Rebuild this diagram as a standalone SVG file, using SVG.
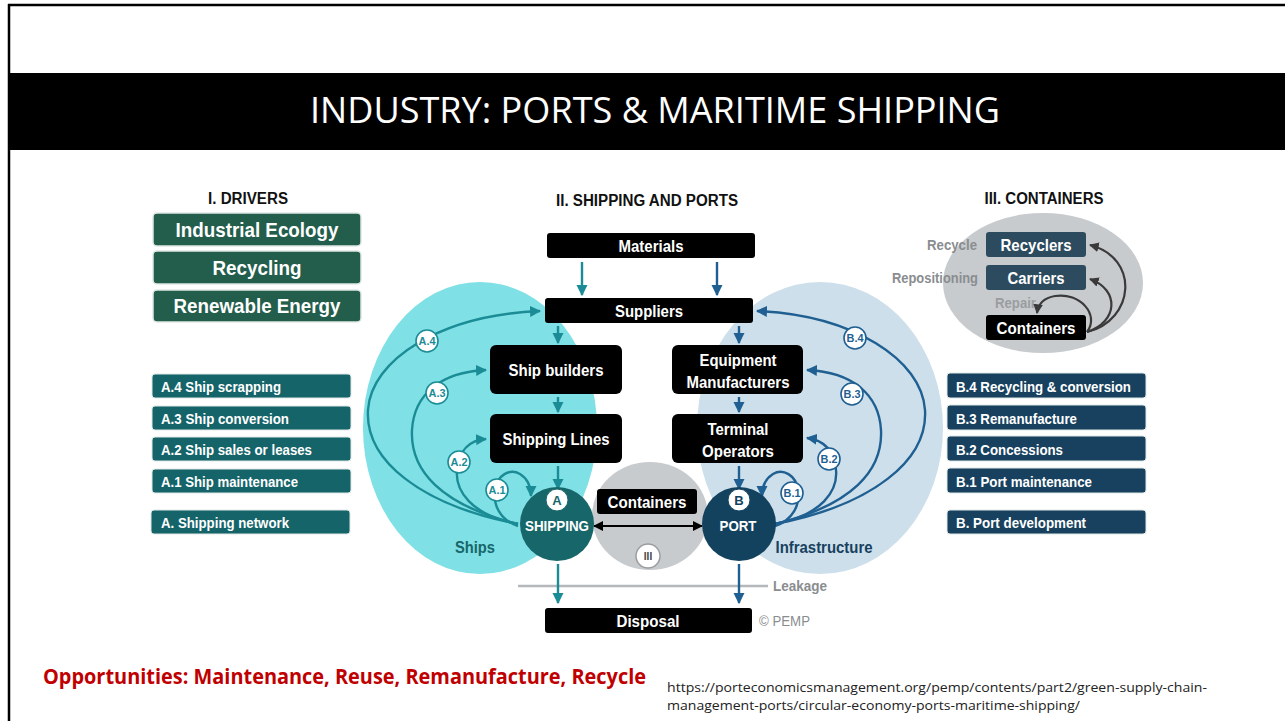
<svg xmlns="http://www.w3.org/2000/svg" width="1285" height="721" viewBox="0 0 1285 721">
<defs>
<marker id="mt" viewBox="0 0 10 10" refX="9" refY="5" markerWidth="4.6" markerHeight="4.6" orient="auto-start-reverse"><path d="M0,0 L10,5 L0,10 z" fill="#1b8c95"/></marker>
<marker id="mb" viewBox="0 0 10 10" refX="9" refY="5" markerWidth="4.6" markerHeight="4.6" orient="auto-start-reverse"><path d="M0,0 L10,5 L0,10 z" fill="#1f5f91"/></marker>
<marker id="mk" viewBox="0 0 10 10" refX="9" refY="5" markerWidth="4.6" markerHeight="4.6" orient="auto-start-reverse"><path d="M0,0 L10,5 L0,10 z" fill="#000"/></marker>
<marker id="mg" viewBox="0 0 10 10" refX="9" refY="5" markerWidth="4.4" markerHeight="4.4" orient="auto-start-reverse"><path d="M0,0 L10,5 L0,10 z" fill="#3a3a3a"/></marker>
</defs>
<style>
text{font-family:"Liberation Sans",Arial,sans-serif;font-weight:bold}
.w{fill:#fff}
.c{text-anchor:middle}
.hd{font-size:16px;fill:#111}
.drv{fill:#235e4c;stroke:#dfe7e4;stroke-width:1.5}
.sa{fill:#15646a;stroke:#dfe7e4;stroke-width:1}
.sb{fill:#17415f;stroke:#dfe7e4;stroke-width:1}
.blk{fill:#000}
.cb{fill:#2d4b5e}
.gl{fill:#8a8d90;font-size:14px}
.lt{fill:none;stroke:#1b8c95;stroke-width:2.4}
.lb{fill:none;stroke:#1f5f91;stroke-width:2.4}
.lg{fill:none;stroke:#3a3a3a;stroke-width:2.2}
.ct{fill:#fff;stroke:#1b8c95;stroke-width:1.6}
.cbl{fill:#fff;stroke:#1f5f91;stroke-width:1.6}
.tt{fill:#1b8c95;font-size:11px}
.tb{fill:#1f5f91;font-size:11px}
</style>
<rect width="1285" height="721" fill="#fff"/>
<g id="frame">
<line x1="8" y1="5" x2="1285" y2="5" stroke="#000" stroke-width="2.5"/>
<line x1="9" y1="4" x2="9" y2="721" stroke="#000" stroke-width="2.5"/>
<rect x="9" y="73" width="1276" height="77" fill="#000"/>
<text x="655" y="123" class="c" style="font-family:'Open Sans','Liberation Sans',sans-serif;font-weight:normal;font-size:36px;fill:#fff" textLength="690" lengthAdjust="spacingAndGlyphs">INDUSTRY: PORTS &amp; MARITIME SHIPPING</text>
</g>
<g id="backgrounds">
<ellipse cx="480" cy="428" rx="117" ry="146" fill="#7fe0e6"/>
<ellipse cx="820" cy="428" rx="123" ry="146" fill="#cddfea"/>
<ellipse cx="650" cy="516" rx="58" ry="54" fill="#c8cbce"/>
<ellipse cx="1043" cy="283" rx="100" ry="70" fill="#c8cbce"/>
<text x="475" y="553" class="c" style="font-size:16px;fill:#17666a" textLength="40" lengthAdjust="spacingAndGlyphs">Ships</text>
<text x="824" y="553" class="c" style="font-size:16px;fill:#17415f" textLength="97" lengthAdjust="spacingAndGlyphs">Infrastructure</text>
<line x1="518" y1="586" x2="768" y2="586" stroke="#b5b8bb" stroke-width="2.5"/>
<text x="773" y="591" class="gl" textLength="54" lengthAdjust="spacingAndGlyphs">Leakage</text>
<text x="759" y="626" class="gl" style="font-weight:normal" textLength="51" lengthAdjust="spacingAndGlyphs">© PEMP</text>
</g>
<g id="drivers">
<text x="248" y="204" class="c hd" textLength="80" lengthAdjust="spacingAndGlyphs">I. DRIVERS</text>
<rect x="153" y="213" width="208" height="33" rx="4" class="drv"/>
<text x="257" y="237" class="c w" style="font-size:21px" textLength="163" lengthAdjust="spacingAndGlyphs">Industrial Ecology</text>
<rect x="153" y="251" width="208" height="33" rx="4" class="drv"/>
<text x="257" y="275" class="c w" style="font-size:21px" textLength="89" lengthAdjust="spacingAndGlyphs">Recycling</text>
<rect x="153" y="290" width="208" height="32" rx="4" class="drv"/>
<text x="257" y="313" class="c w" style="font-size:21px" textLength="167" lengthAdjust="spacingAndGlyphs">Renewable Energy</text>
</g>
<g id="shipping-list">
<rect x="152" y="374" width="199" height="24" rx="3" class="sa"/>
<text x="161" y="392" class="w" style="font-size:15px" textLength="120" lengthAdjust="spacingAndGlyphs">A.4 Ship scrapping</text>
<rect x="152" y="406" width="199" height="24" rx="3" class="sa"/>
<text x="161" y="424" class="w" style="font-size:15px" textLength="128" lengthAdjust="spacingAndGlyphs">A.3 Ship conversion</text>
<rect x="152" y="437" width="199" height="24" rx="3" class="sa"/>
<text x="161" y="455" class="w" style="font-size:15px" textLength="151" lengthAdjust="spacingAndGlyphs">A.2 Ship sales or leases</text>
<rect x="152" y="469" width="199" height="24" rx="3" class="sa"/>
<text x="161" y="487" class="w" style="font-size:15px" textLength="137" lengthAdjust="spacingAndGlyphs">A.1 Ship maintenance</text>
<rect x="151" y="510" width="199" height="24" rx="3" class="sa"/>
<text x="161" y="528" class="w" style="font-size:15px" textLength="128" lengthAdjust="spacingAndGlyphs">A. Shipping network</text>
</g>
<g id="port-list">
<rect x="947" y="373" width="199" height="25" rx="3" class="sb"/>
<text x="956" y="392" class="w" style="font-size:15px" textLength="175" lengthAdjust="spacingAndGlyphs">B.4 Recycling &amp; conversion</text>
<rect x="947" y="405" width="199" height="25" rx="3" class="sb"/>
<text x="956" y="424" class="w" style="font-size:15px" textLength="121" lengthAdjust="spacingAndGlyphs">B.3 Remanufacture</text>
<rect x="947" y="436" width="199" height="25" rx="3" class="sb"/>
<text x="956" y="455" class="w" style="font-size:15px" textLength="107" lengthAdjust="spacingAndGlyphs">B.2 Concessions</text>
<rect x="947" y="468" width="199" height="25" rx="3" class="sb"/>
<text x="956" y="487" class="w" style="font-size:15px" textLength="136" lengthAdjust="spacingAndGlyphs">B.1 Port maintenance</text>
<rect x="947" y="510" width="199" height="24" rx="3" class="sb"/>
<text x="956" y="528" class="w" style="font-size:15px" textLength="130" lengthAdjust="spacingAndGlyphs">B. Port development</text>
</g>
<g id="containers-panel">
<text x="1044" y="204" class="c hd" textLength="119" lengthAdjust="spacingAndGlyphs">III. CONTAINERS</text>
<rect x="986" y="232" width="100" height="25" rx="3" class="cb"/>
<text x="1036" y="251" class="c w" style="font-size:17px" textLength="71" lengthAdjust="spacingAndGlyphs">Recyclers</text>
<rect x="986" y="265" width="100" height="25" rx="3" class="cb"/>
<text x="1036" y="284" class="c w" style="font-size:17px" textLength="57" lengthAdjust="spacingAndGlyphs">Carriers</text>
<rect x="986" y="315" width="100" height="25" rx="3" class="blk"/>
<text x="1036" y="334" class="c w" style="font-size:17px" textLength="79" lengthAdjust="spacingAndGlyphs">Containers</text>
<text x="977" y="250" class="gl" style="text-anchor:end" textLength="50" lengthAdjust="spacingAndGlyphs">Recycle</text>
<text x="978" y="283" class="gl" style="text-anchor:end" textLength="86" lengthAdjust="spacingAndGlyphs">Repositioning</text>
<text x="995" y="308" class="gl" style="fill:#9a9da0" textLength="41" lengthAdjust="spacingAndGlyphs">Repair</text>
</g>
<g id="materials"><rect x="547" y="233" width="208" height="25" rx="3" class="blk"/><text x="651" y="252" class="c w" style="font-size:16px" textLength="65" lengthAdjust="spacingAndGlyphs">Materials</text></g>
<text x="647" y="206" class="c hd" textLength="182" lengthAdjust="spacingAndGlyphs">II. SHIPPING AND PORTS</text>
<g id="suppliers"><rect x="545" y="298" width="208" height="25" rx="3" class="blk"/><text x="649" y="317" class="c w" style="font-size:16px" textLength="68" lengthAdjust="spacingAndGlyphs">Suppliers</text></g>
<g id="shipbuilders"><rect x="490" y="345" width="132" height="49" rx="6" class="blk"/><text x="556" y="376" class="c w" style="font-size:16px" textLength="95" lengthAdjust="spacingAndGlyphs">Ship builders</text></g>
<g id="shippinglines"><rect x="490" y="414" width="132" height="49" rx="6" class="blk"/><text x="556" y="445" class="c w" style="font-size:16px" textLength="107" lengthAdjust="spacingAndGlyphs">Shipping Lines</text></g>
<g id="equipment"><rect x="672" y="345" width="131" height="49" rx="6" class="blk"/><text x="738" y="366" class="c w" style="font-size:16px" textLength="77" lengthAdjust="spacingAndGlyphs">Equipment</text><text x="738" y="388" class="c w" style="font-size:16px" textLength="103" lengthAdjust="spacingAndGlyphs">Manufacturers</text></g>
<g id="terminal"><rect x="672" y="414" width="131" height="49" rx="6" class="blk"/><text x="738" y="435" class="c w" style="font-size:16px" textLength="61" lengthAdjust="spacingAndGlyphs">Terminal</text><text x="738" y="457" class="c w" style="font-size:16px" textLength="72" lengthAdjust="spacingAndGlyphs">Operators</text></g>
<g id="containers-mid"><rect x="597" y="489" width="100" height="25" rx="3" class="blk"/><text x="647" y="508" class="c w" style="font-size:16px" textLength="79" lengthAdjust="spacingAndGlyphs">Containers</text></g>
<g id="disposal"><rect x="545" y="608" width="207" height="25" rx="3" class="blk"/><text x="648" y="627" class="c w" style="font-size:16px" textLength="63" lengthAdjust="spacingAndGlyphs">Disposal</text></g>
<g id="connectors">
<line x1="582" y1="262" x2="582" y2="295" class="lt" marker-end="url(#mt)"/>
<line x1="717" y1="262" x2="717" y2="295" class="lb" marker-end="url(#mb)"/>
<line x1="558" y1="326" x2="558" y2="343" class="lt" marker-end="url(#mt)"/>
<line x1="739" y1="326" x2="739" y2="343" class="lb" marker-end="url(#mb)"/>
<line x1="558" y1="397" x2="558" y2="412" class="lt" marker-end="url(#mt)"/>
<line x1="739" y1="397" x2="739" y2="412" class="lb" marker-end="url(#mb)"/>
<line x1="558" y1="466" x2="558" y2="489" class="lt" marker-end="url(#mt)"/>
<line x1="739" y1="466" x2="739" y2="489" class="lb" marker-end="url(#mb)"/>
<line x1="558" y1="564" x2="558" y2="603" class="lt" marker-end="url(#mt)"/>
<line x1="739" y1="564" x2="739" y2="603" class="lb" marker-end="url(#mb)"/>
<line x1="594" y1="526" x2="702" y2="526" stroke="#000" stroke-width="2.2" marker-start="url(#mk)" marker-end="url(#mk)"/>
<path d="M518,524 C420,505 365,460 368,410 C371,360 440,315 540,311" class="lt" marker-end="url(#mt)"/>
<path d="M518,524 C440,505 410,470 412,430 C414,395 440,372 486,370" class="lt" marker-end="url(#mt)"/>
<path d="M518,524 C470,515 455,490 457,470 C459,450 470,440 486,439" class="lt" marker-end="url(#mt)"/>
<path d="M518,526 C500,520 493,505 495,490 C497,475 510,468 520,474 C528,479 531,488 531,496" class="lt" marker-end="url(#mt)"/>
<path d="M775,524 C873,505 928,460 925,410 C922,360 853,315 757,311" class="lb" marker-end="url(#mb)"/>
<path d="M775,524 C853,505 883,470 881,430 C879,395 853,372 807,370" class="lb" marker-end="url(#mb)"/>
<path d="M775,524 C823,515 838,490 836,470 C834,450 823,440 807,438" class="lb" marker-end="url(#mb)"/>
<path d="M775,526 C793,520 800,505 798,490 C796,475 783,468 773,474 C765,479 762,488 762,496" class="lb" marker-end="url(#mb)"/>
<path d="M1087,332 C1135,320 1140,258 1090,245" class="lg" marker-end="url(#mg)"/>
<path d="M1087,332 C1118,322 1120,290 1090,279" class="lg" marker-end="url(#mg)"/>
<path d="M1087,332 C1100,315 1080,292 1055,296 C1043,298 1038,305 1037,313" class="lg" marker-end="url(#mg)"/>
</g>
<g id="labels">
<circle cx="427" cy="341" r="11" class="ct"/><text x="427" y="345" class="c tt" textLength="17" lengthAdjust="spacingAndGlyphs">A.4</text>
<circle cx="437" cy="393" r="11" class="ct"/><text x="437" y="397" class="c tt" textLength="17" lengthAdjust="spacingAndGlyphs">A.3</text>
<circle cx="459" cy="462" r="11" class="ct"/><text x="459" y="466" class="c tt" textLength="17" lengthAdjust="spacingAndGlyphs">A.2</text>
<circle cx="497" cy="490" r="11" class="ct"/><text x="497" y="494" class="c tt" textLength="17" lengthAdjust="spacingAndGlyphs">A.1</text>
<circle cx="855" cy="338" r="11" class="cbl"/><text x="855" y="342" class="c tb" textLength="17" lengthAdjust="spacingAndGlyphs">B.4</text>
<circle cx="852" cy="394" r="11" class="cbl"/><text x="852" y="398" class="c tb" textLength="17" lengthAdjust="spacingAndGlyphs">B.3</text>
<circle cx="829" cy="459" r="11" class="cbl"/><text x="829" y="463" class="c tb" textLength="17" lengthAdjust="spacingAndGlyphs">B.2</text>
<circle cx="792" cy="493" r="11" class="cbl"/><text x="792" y="497" class="c tb" textLength="17" lengthAdjust="spacingAndGlyphs">B.1</text>
</g>
<g id="shipping">
<circle cx="557" cy="524" r="37" fill="#17666a"/>
<circle cx="557" cy="500" r="11" fill="#fff" stroke="#17666a" stroke-width="1"/>
<text x="557" y="505" class="c" style="font-size:13px;fill:#17666a">A</text>
<text x="557" y="531" class="c w" style="font-size:15px" textLength="64" lengthAdjust="spacingAndGlyphs">SHIPPING</text>
</g>
<g id="port">
<circle cx="739" cy="524" r="37" fill="#13425f"/>
<circle cx="739" cy="500" r="11" fill="#fff" stroke="#13425f" stroke-width="1"/>
<text x="739" y="505" class="c" style="font-size:13px;fill:#13425f">B</text>
<text x="738" y="531" class="c w" style="font-size:15px" textLength="37" lengthAdjust="spacingAndGlyphs">PORT</text>
</g>
<g id="iii">
<circle cx="648" cy="556" r="12" fill="#fff" stroke="#9a9da0" stroke-width="1.5"/>
<text x="648" y="560" class="c" style="font-size:10px;fill:#444">III</text>
</g>
<g id="footer">
<text x="43" y="684" style="font-family:'Open Sans','Liberation Sans',sans-serif;font-weight:bold;font-size:21px;fill:#c00000" textLength="603" lengthAdjust="spacingAndGlyphs">Opportunities: Maintenance, Reuse, Remanufacture, Recycle</text>
<text x="667" y="692" style="font-family:'Open Sans','Liberation Sans',sans-serif;font-weight:normal;font-size:13px;fill:#222" textLength="540" lengthAdjust="spacingAndGlyphs">https://porteconomicsmanagement.org/pemp/contents/part2/green-supply-chain-</text>
<text x="667" y="710" style="font-family:'Open Sans','Liberation Sans',sans-serif;font-weight:normal;font-size:13px;fill:#222" textLength="413" lengthAdjust="spacingAndGlyphs">management-ports/circular-economy-ports-maritime-shipping/</text>
</g>
</svg>
